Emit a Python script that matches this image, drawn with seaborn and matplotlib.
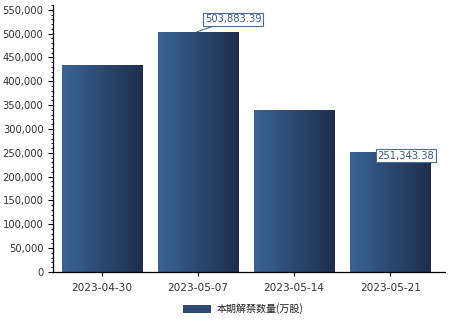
import numpy as np
import pandas as pd
import matplotlib
matplotlib.use("Agg")
import matplotlib.pyplot as plt
import seaborn as sns
from matplotlib.ticker import MultipleLocator, FuncFormatter
from matplotlib.colors import LinearSegmentedColormap
from matplotlib.patches import Patch

dates = ["2023-04-30", "2023-05-07", "2023-05-14", "2023-05-21"]
values = [434500.0, 503883.39, 340000.0, 251343.38]
series_name = "本期解禁数量(万股)"
labeled = {1: "503,883.39", 3: "251,343.38"}

sns.set_style("white")
plt.rcParams['font.family'] = ['Noto Sans CJK SC', 'DejaVu Sans']

fig = plt.figure(figsize=(4.69, 3.21), dpi=100)
ax = fig.add_axes([53/469, 1-272/321, (445-53)/469, (272-5)/321])

df = pd.DataFrame({"date": dates, "value": values})
sns.barplot(data=df, x="date", y="value", ax=ax, color="#2d4a72", width=0.833,
            saturation=1, edgecolor="none")

# gradient fill
cmap = LinearSegmentedColormap.from_list("g", ["#3c6394", "#2c4870", "#1e2f4c"])
grad = np.linspace(0, 1, 256).reshape(1, -1)
for p in ax.patches:
    x0, y0 = p.get_x(), p.get_y()
    w, h = p.get_width(), p.get_height()
    im = ax.imshow(grad, cmap=cmap, aspect="auto", extent=[x0, x0 + w, y0, y0 + h],
                   zorder=p.get_zorder() + 0.1)
    im.set_clip_path(p)
ax.set_xlim(-0.51, 3.57)
ax.set_ylim(0, 560000)

ax.yaxis.set_major_locator(MultipleLocator(50000))
ax.yaxis.set_minor_locator(MultipleLocator(10000))
ax.yaxis.set_major_formatter(FuncFormatter(lambda v, p: f"{int(v):,}"))
ax.tick_params(axis="y", which="major", length=3.4, width=0.8, direction="out", left=True,
               labelsize=7.2, pad=3.5)
ax.tick_params(axis="y", which="minor", length=1.7, width=0.6, direction="out", left=True)
ax.tick_params(axis="x", which="major", length=3, width=0.8, direction="out", bottom=True,
               labelsize=7.6, pad=5)
ax.tick_params(axis="both", which="both", colors="black", labelcolor="#333333")
for lab in ax.get_yticklabels() + ax.get_xticklabels():
    lab.set_family("DejaVu Sans")
ax.set_xlabel("")
ax.set_ylabel("")
for s in ["top", "right"]:
    ax.spines[s].set_visible(False)
for s in ["left", "bottom"]:
    ax.spines[s].set_color("black")
    ax.spines[s].set_linewidth(0.9)

# annotations
box = dict(boxstyle="square,pad=0.18", fc="white", ec="#4a6c96", lw=0.8)
i = 1
ax.annotate(labeled[i], xy=(i - 0.01, values[i]), xytext=(i + 0.07, values[i] + 26000),
            fontsize=7.2, color="#3b5b8c", family="DejaVu Sans", ha="left", va="center",
            bbox=box, arrowprops=dict(arrowstyle="-", color="#4a6c96", lw=0.8,
                                      shrinkA=0, shrinkB=0))
i = 3
ax.annotate(labeled[i], xy=(i, values[i]), xytext=(i - 0.13, values[i] - 7000),
            fontsize=7.2, color="#3b5b8c", family="DejaVu Sans", ha="left", va="center",
            bbox=box)

# legend
handle = Patch(facecolor="#2d4a72", edgecolor="none")
fig.legend([handle], [series_name], loc="center", bbox_to_anchor=(0.518, 1 - 309/321),
           frameon=False, fontsize=7.2, handlelength=2.8, handleheight=0.8,
           handletextpad=0.6, labelcolor="#222222")

fig.savefig("out.png", dpi=100)
